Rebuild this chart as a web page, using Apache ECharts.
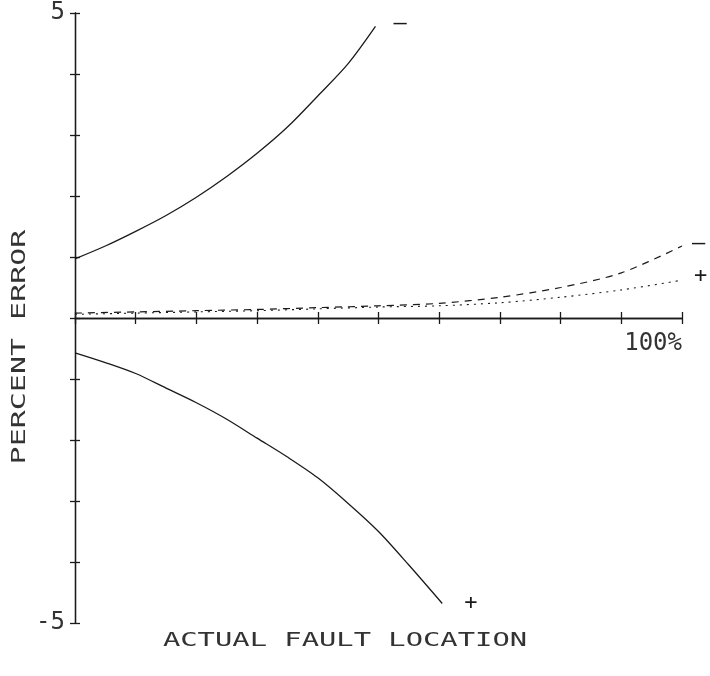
<!DOCTYPE html>
<html>
<head>
<meta charset="utf-8">
<script src="https://cdn.jsdelivr.net/npm/echarts@6/dist/echarts.min.js"></script>
<style>html,body{margin:0;padding:0;background:#fff}#c{width:710px;height:676px}</style>
</head>
<body>
<div id="c"></div>
<script>
// Upper solid curve ("-" bound)
const solidMinusX = [0, 5, 10, 15, 20, 25, 30, 35, 40, 45, 49.5];
const solidMinusY = [0.97, 1.18, 1.42, 1.68, 1.98, 2.32, 2.7, 3.13, 3.64, 4.17, 4.78];
// Lower solid curve ("+" bound)
const solidPlusX = [0, 5, 10, 15, 20, 25, 30, 35, 40, 45, 50, 55, 60.5];
const solidPlusY = [-0.57, -0.73, -0.91, -1.15, -1.39, -1.66, -1.97, -2.28, -2.62, -3.04, -3.5, -4.05, -4.68];
// Dashed curves
const dashX = [0, 10, 20, 30, 40, 50, 60, 70, 80, 90, 100];
const dashMinusY = [0.08, 0.1, 0.12, 0.14, 0.17, 0.2, 0.24, 0.34, 0.5, 0.74, 1.18];
const dashPlusY = [0.06, 0.08, 0.1, 0.12, 0.15, 0.18, 0.2, 0.25, 0.34, 0.46, 0.62];
const yTickLabels = {'5': '5', '-5': '-5'};
const xEndTick = [100, 0];
const xEndLabel = '100%';
const xTitle = 'ACTUAL FAULT LOCATION';
const yTitle = 'PERCENT ERROR';

const pairs = (xs, ys) => xs.map((x, i) => [x, ys[i]]);
const ink = '#1a1a1a';
const font = 'DejaVu Sans Mono';

const chart = echarts.init(document.getElementById('c'), null, {renderer: 'canvas'});
const lineBase = {type: 'line', showSymbol: false, symbol: 'none', smooth: 0.3, clip: false, animation: false};
const endLbl = (txt, dist, off) => ({show: true, formatter: txt, distance: dist, offset: off, color: ink, fontFamily: font, fontSize: 22});

const tickStyle = {color: ink, width: 1.3};
chart.setOption({
  animation: false,
  grid: {left: 75, right: 28, top: 13, bottom: 53},
  xAxis: [
    {
      type: 'value', min: 0, max: 100, interval: 10, position: 'bottom', splitLine: {show: false},
      axisLine: {show: true, onZero: true, onZeroAxisIndex: 0, lineStyle: {color: ink, width: 1.3}},
      axisTick: {show: true, inside: false, length: 6, lineStyle: tickStyle},
      axisLabel: {show: false}
    },
    {
      type: 'value', min: 0, max: 100, interval: 10, position: 'top', splitLine: {show: false},
      axisLine: {show: true, onZero: true, onZeroAxisIndex: 1, lineStyle: {color: ink, width: 1.3}},
      axisTick: {show: true, inside: false, length: 6, lineStyle: tickStyle},
      axisLabel: {show: false}
    }
  ],
  yAxis: [
    {
      type: 'value', min: -5, max: 5, interval: 1, position: 'left', splitLine: {show: false},
      axisLine: {show: true, onZero: true, onZeroAxisIndex: 0, lineStyle: {color: ink, width: 1.3}},
      axisTick: {show: true, inside: false, length: 5, lineStyle: tickStyle},
      axisLabel: {show: true, formatter: v => yTickLabels[String(v)] || '', margin: 10, color: '#333', fontFamily: font, fontSize: 24}
    },
    {
      type: 'value', min: -5, max: 5, interval: 1, position: 'right', splitLine: {show: false},
      axisLine: {show: true, onZero: true, onZeroAxisIndex: 1, lineStyle: {color: ink, width: 1.3}},
      axisTick: {show: true, inside: false, length: 5, lineStyle: tickStyle},
      axisLabel: {show: false}
    }
  ],
  series: [
    Object.assign({}, lineBase, {name: 'upper -', data: pairs(solidMinusX, solidMinusY), lineStyle: {color: ink, width: 1.3}, endLabel: endLbl('—', 18, [0, -3])}),
    Object.assign({}, lineBase, {name: 'lower +', data: pairs(solidPlusX, solidPlusY), lineStyle: {color: ink, width: 1.3}, endLabel: endLbl('+', 22, [0, 0])}),
    Object.assign({}, lineBase, {name: 'dash -', data: pairs(dashX, dashMinusY), lineStyle: {color: ink, width: 1.2, type: [7, 6]}, endLabel: endLbl('—', 10, [0, -3]),
      markPoint: {symbol: 'circle', symbolSize: 0, silent: true, data: [{coord: xEndTick}],
        label: {show: true, formatter: xEndLabel, position: 'bottom', distance: 14, align: 'right', color: '#333', fontFamily: font, fontSize: 24}}}),
    Object.assign({}, lineBase, {name: 'dot +', data: pairs(dashX, dashPlusY), lineStyle: {color: ink, width: 1.1, type: [2, 5]}, endLabel: endLbl('+', 12, [0, -4])})
  ],
  graphic: [
    {type: 'text', x: 345, y: 641, scaleX: 1.44, style: {text: xTitle, fontFamily: font, fontSize: 20, fill: '#333', align: 'center', verticalAlign: 'middle'}},
    {type: 'text', x: 20, y: 347, rotation: Math.PI / 2, scaleX: 1.5, style: {text: yTitle, fontFamily: font, fontSize: 20, fill: '#333', align: 'center', verticalAlign: 'middle'}}
  ]
});
</script>
</body>
</html>
